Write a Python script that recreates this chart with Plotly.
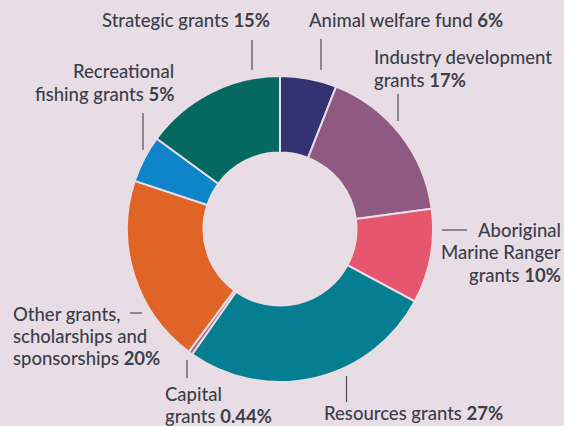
import plotly.graph_objects as go

# Grant spending by category (per cent of total), clockwise from 12 o'clock
categories = [
    "Animal welfare fund",
    "Industry development grants",
    "Aboriginal Marine Ranger grants",
    "Resources grants",
    "Capital grants",
    "Other grants, scholarships and sponsorships",
    "Recreational fishing grants",
    "Strategic grants",
]
shares = [6, 17, 10, 27, 0.44, 20, 5, 15]
share_labels = ["6%", "17%", "10%", "27%", "0.44%", "20%", "5%", "15%"]
colors = ["#333272", "#8f5a82", "#e6566f", "#067e91", "#9a6a94",
          "#e06426", "#0d85c8", "#056962"]

BG = "#e9dde5"
TEXT = "#3b3f4b"
W, H = 564, 426
FS = 18.5


def px(x):
    return x / W


def py(y):
    return 1 - y / H


fig = go.Figure(
    go.Pie(
        labels=categories,
        values=shares,
        hole=0.5,
        sort=False,
        direction="clockwise",
        rotation=0,
        marker=dict(colors=colors, line=dict(color=BG, width=2)),
        textinfo="none",
        hoverinfo="label+percent",
        showlegend=False,
        domain=dict(x=[px(127), px(433)], y=[py(382), py(76)]),
    )
)

# Label blocks: (lines, x, baseline of each line, anchor)
label_blocks = [
    (["Strategic grants <b>%s</b>" % share_labels[7]], 100, [25.7], "left"),
    (["Animal welfare fund <b>%s</b>" % share_labels[0]], 307, [26], "left"),
    (["Industry development", "grants <b>%s</b>" % share_labels[1]], 372, [63, 86], "left"),
    (["Aboriginal", "Marine Ranger", "grants <b>%s</b>" % share_labels[2]], 563,
     [235.5, 258, 280.5], "right"),
    (["Resources grants <b>%s</b>" % share_labels[3]], 322, [419], "left"),
    (["Capital", "grants <b>%s</b>" % share_labels[4]], 163, [400, 421.5], "left"),
    (["Other grants,", "scholarships and", "sponsorships <b>%s</b>" % share_labels[5]], 11,
     [319.5, 342, 364], "left"),
    (["Recreational", "fishing grants <b>%s</b>" % share_labels[6]], 176, [76.7, 99.3], "right"),
]

for lines, x, baselines, anchor in label_blocks:
    for line, base in zip(lines, baselines):
        fig.add_annotation(
            text=line,
            x=px(x), y=py(base - 0.3 * FS), xref="paper", yref="paper",
            xanchor=anchor, yanchor="middle", align=anchor,
            showarrow=False,
            font=dict(family="Lato", size=FS, color=TEXT, weight=500),
        )

# Short leader ticks beside each label
leaders = [
    (252, 40, 252, 70),
    (321, 39, 321, 70),
    (398, 94, 398, 121),
    (442, 230, 467, 230),
    (346.5, 376, 346.5, 402),
    (187, 360, 187, 378),
    (130, 313, 142, 313),
    (143, 113, 143, 150),
]
for x0, y0, x1, y1 in leaders:
    fig.add_shape(
        type="line", xref="paper", yref="paper",
        x0=px(x0), y0=py(y0), x1=px(x1), y1=py(y1),
        line=dict(color="#4a4e58", width=1.2),
    )

fig.update_layout(
    width=W, height=H,
    margin=dict(l=0, r=0, t=0, b=0),
    paper_bgcolor=BG,
    plot_bgcolor=BG,
)

fig.write_html("out.html")
